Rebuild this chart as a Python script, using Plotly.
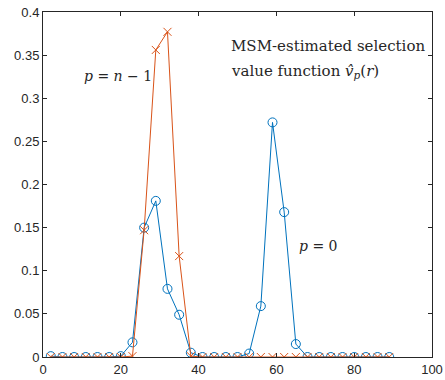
import plotly.graph_objects as go

x_vals = [2, 5, 8, 11, 14, 17, 20, 23, 26, 29, 32, 35, 38, 41, 44, 47, 50, 53, 56, 59,
          62, 65, 68, 71, 74, 77, 80, 83, 86, 89]
v_p0 = [0.001, 0, 0, 0, 0, 0, 0.001, 0.017, 0.150, 0.181, 0.079, 0.049, 0.005, 0, 0, 0, 0,
        0.004, 0.059, 0.272, 0.168, 0.015, 0, 0, 0, 0, 0, 0, 0, 0]
v_pn1 = [0, 0, 0, 0, 0, 0, 0, 0.001, 0.147, 0.356, 0.377, 0.117, 0.001, 0, 0, 0, 0,
         0, 0, 0, 0, 0, 0, 0, 0, 0, 0, 0, 0, 0]
x_ticks = [0, 20, 40, 60, 80, 100]
y_ticks = [0, 0.05, 0.1, 0.15, 0.2, 0.25, 0.3, 0.35, 0.4]
y_tick_labels = ["0", "0.05", "0.1", "0.15", "0.2", "0.25", "0.3", "0.35", "0.4"]

blue = "#0072BD"
orange = "#D95319"

fig = go.Figure()
fig.add_trace(go.Scatter(x=x_vals, y=v_p0, mode="lines+markers",
                         line=dict(color=blue, width=1),
                         marker=dict(symbol="circle-open", size=9, color=blue, line=dict(width=1))))
fig.add_trace(go.Scatter(x=x_vals, y=v_pn1, mode="lines+markers",
                         line=dict(color=orange, width=1),
                         marker=dict(symbol="x-thin-open", size=8, color=orange, line=dict(width=1, color=orange))))

serif = "DejaVu Serif"
tc = "#262626"
fig.add_annotation(x=10.0, y=0.326, xref="x", yref="y", xanchor="left", yanchor="middle",
                   text="<i>p</i> = <i>n</i> − 1", showarrow=False,
                   font=dict(family=serif, size=14, color=tc))
fig.add_annotation(x=65.4, y=0.1287, xref="x", yref="y", xanchor="left", yanchor="middle",
                   text="<i>p</i> = 0", showarrow=False,
                   font=dict(family=serif, size=14, color=tc))
fig.add_annotation(x=47.8, y=0.361, xref="x", yref="y", xanchor="left", yanchor="middle",
                   text="MSM-estimated selection",
                   showarrow=False, align="left",
                   font=dict(family=serif, size=15, color=tc))
fig.add_annotation(x=47.8, y=0.331, xref="x", yref="y", xanchor="left", yanchor="middle",
                   text="value function <i>v̂</i><sub><i>p</i></sub>(<i>r</i>)",
                   showarrow=False, align="left",
                   font=dict(family=serif, size=15, color=tc))

axis_common = dict(showline=True, linecolor=tc, linewidth=1, mirror="ticks",
                   ticks="inside", ticklen=4, tickcolor=tc, showgrid=False, automargin=False,
                   zeroline=False, tickfont=dict(family="Liberation Sans", size=13, color=tc))
fig.update_xaxes(range=[0, 100], tickvals=x_ticks, **axis_common)
fig.update_yaxes(range=[0, 0.4], tickvals=y_ticks, ticktext=y_tick_labels, **axis_common)

fig.update_layout(width=445, height=380, margin=dict(l=43, r=13, t=12, b=23),
                  paper_bgcolor="white", plot_bgcolor="white", showlegend=False)
fig.write_html("out.html")
